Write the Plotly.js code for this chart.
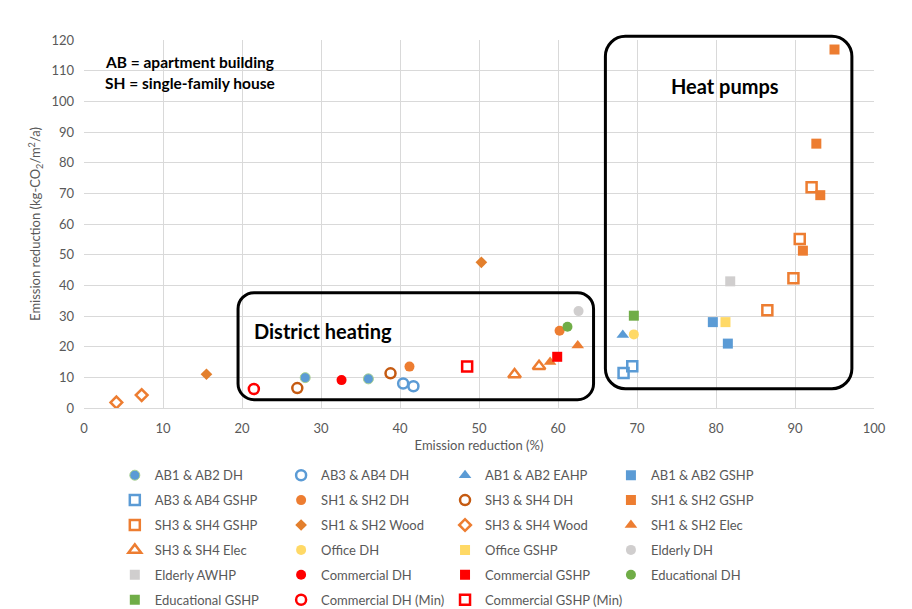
<!DOCTYPE html>
<html>
<head>
<meta charset="utf-8">
<script src="https://cdn.plot.ly/plotly-3.0.1.min.js"></script>
<style>html,body{margin:0;padding:0;background:#fff}</style>
</head>
<body>
<div id="chart" style="width:912px;height:609px"></div>
<script>
// Emission reduction: relative (%) on x, absolute (kg-CO2/m2/a) on y
const ab12DH_x = [28.0, 36.0],            ab12DH_y = [9.9, 9.5];
const ab34DH_x = [40.4, 41.7],            ab34DH_y = [8.0, 7.1];
const ab12EAHP_x = [68.2],                ab12EAHP_y = [23.8];
const ab12GSHP_x = [79.6, 81.5],          ab12GSHP_y = [28.0, 21.0];
const ab34GSHP_x = [68.3, 69.4],          ab34GSHP_y = [11.4, 13.6];
const sh12DH_x = [41.2, 60.2],            sh12DH_y = [13.5, 25.2];
const sh34DH_x = [27.0, 38.8],            sh34DH_y = [6.5, 11.3];
const sh12GSHP_x = [95.0, 92.7, 93.2, 91.0], sh12GSHP_y = [116.9, 86.2, 69.4, 51.3];
const sh34GSHP_x = [92.1, 90.6, 89.8, 86.5], sh34GSHP_y = [72.0, 55.1, 42.3, 31.9];
const sh12Wood_x = [15.5, 50.3],          sh12Wood_y = [11.0, 47.5];
const sh34Wood_x = [4.1, 7.3],            sh34Wood_y = [1.8, 4.2];
const sh12Elec_x = [59.0, 62.5],          sh12Elec_y = [15.0, 20.4];
const sh34Elec_x = [54.5, 57.6],          sh34Elec_y = [10.9, 13.6];
const officeDH_x = [69.6],                officeDH_y = [24.0];
const officeGSHP_x = [81.2],              officeGSHP_y = [28.0];
const elderlyDH_x = [62.6],               elderlyDH_y = [31.6];
const elderlyAWHP_x = [81.8],             elderlyAWHP_y = [41.3];
const commDH_x = [32.6],                  commDH_y = [9.1];
const commGSHP_x = [59.9],                commGSHP_y = [16.7];
const eduDH_x = [61.2],                   eduDH_y = [26.5];
const eduGSHP_x = [69.6],                 eduGSHP_y = [30.1];
const commDHMin_x = [21.5],               commDHMin_y = [6.2];
const commGSHPMin_x = [48.5],             commGSHPMin_y = [13.5];

const xTicks = [0, 10, 20, 30, 40, 50, 60, 70, 80, 90, 100];
const yTicks = [0, 10, 20, 30, 40, 50, 60, 70, 80, 90, 100, 110, 120];

const BLUE = '#5B9BD5', ORANGE = '#ED7D31', BROWN = '#C55A11', WOOD = '#E37F2C';
const YELLOW = '#FFD966', GREY = '#D0CECE', RED = '#FF0000', GREEN = '#70AD47';

const FONT = 'Lato, "Open Sans", sans-serif';

// [name, x, y, symbol, color, extra marker props]
const series = [
  ['AB1 & AB2 DH', ab12DH_x, ab12DH_y, 'circle', BLUE, {line: {color: '#A9D18E', width: 1}}],
  ['AB3 & AB4 DH', ab34DH_x, ab34DH_y, 'circle-open', BLUE],
  ['AB1 & AB2 EAHP', ab12EAHP_x, ab12EAHP_y, 'triangle-up', BLUE],
  ['AB1 & AB2 GSHP', ab12GSHP_x, ab12GSHP_y, 'square', BLUE],
  ['AB3 & AB4 GSHP', ab34GSHP_x, ab34GSHP_y, 'square-open', BLUE],
  ['SH1 & SH2 DH', sh12DH_x, sh12DH_y, 'circle', ORANGE],
  ['SH3 & SH4 DH', sh34DH_x, sh34DH_y, 'circle-open', BROWN],
  ['SH1 & SH2 GSHP', sh12GSHP_x, sh12GSHP_y, 'square', ORANGE],
  ['SH3 & SH4 GSHP', sh34GSHP_x, sh34GSHP_y, 'square-open', ORANGE],
  ['SH1 & SH2 Wood', sh12Wood_x, sh12Wood_y, 'diamond', WOOD],
  ['SH3 & SH4 Wood', sh34Wood_x, sh34Wood_y, 'diamond-open', ORANGE],
  ['SH1 & SH2 Elec', sh12Elec_x, sh12Elec_y, 'triangle-up', ORANGE],
  ['SH3 & SH4 Elec', sh34Elec_x, sh34Elec_y, 'triangle-up-open', ORANGE],
  ['Office DH', officeDH_x, officeDH_y, 'circle', YELLOW],
  ['Office GSHP', officeGSHP_x, officeGSHP_y, 'square', YELLOW],
  ['Elderly DH', elderlyDH_x, elderlyDH_y, 'circle', GREY],
  ['Elderly AWHP', elderlyAWHP_x, elderlyAWHP_y, 'square', GREY],
  ['Commercial DH', commDH_x, commDH_y, 'circle', RED],
  ['Commercial GSHP', commGSHP_x, commGSHP_y, 'square', RED],
  ['Educational DH', eduDH_x, eduDH_y, 'circle', GREEN],
  ['Educational GSHP', eduGSHP_x, eduGSHP_y, 'square', GREEN],
  ['Commercial DH (Min)', commDHMin_x, commDHMin_y, 'circle-open', RED],
  ['Commercial GSHP (Min)', commGSHPMin_x, commGSHPMin_y, 'square-open', RED]
];

const legendIds = ['legend', 'legend2', 'legend3', 'legend4'];

const traces = series.map((s, i) => {
  const [name, x, y, symbol, color, extra] = s;
  const open = symbol.endsWith('-open');
  let size = 10;
  if (symbol.startsWith('triangle')) size = 11;
  if (symbol.startsWith('diamond')) size = 9;
  const marker = Object.assign({symbol, color, size,
    line: {color, width: open ? 2.5 : 0}}, extra || {});
  return {
    type: 'scatter', mode: 'markers', name, x, y, marker,
    legend: legendIds[i % 4], legendgroup: 'g' + i,
    hoverinfo: 'x+y+name'
  };
});

// plot area geometry
const W = 912, H = 609;
const M = {l: 84, r: 38, t: 40, b: 201};
const plotW = W - M.l - M.r, plotH = H - M.t - M.b;
const X_RANGE = [0, 100], Y_RANGE = [0, 120];

// rounded grouping frames, extents in axis units
const dhFrame = {x0: 19.5, x1: 64.5, y0: 2.7, y1: 37.6, r: 16};
const hpFrame = {x0: 66.0, x1: 97.2, y0: 6.3, y1: 121.2, r: 20};

function roundedFrame(f) {
  const fx = v => (v - X_RANGE[0]) / (X_RANGE[1] - X_RANGE[0]);
  const fy = v => (v - Y_RANGE[0]) / (Y_RANGE[1] - Y_RANGE[0]);
  const x0 = fx(f.x0), x1 = fx(f.x1), y0 = fy(f.y0), y1 = fy(f.y1);
  const rx = f.r / plotW, ry = f.r / plotH, k = 0.4477;
  const p = [
    `M${x0 + rx},${y1}`,
    `L${x1 - rx},${y1}`,
    `C${x1 - rx * k},${y1} ${x1},${y1 - ry * k} ${x1},${y1 - ry}`,
    `L${x1},${y0 + ry}`,
    `C${x1},${y0 + ry * k} ${x1 - rx * k},${y0} ${x1 - rx},${y0}`,
    `L${x0 + rx},${y0}`,
    `C${x0 + rx * k},${y0} ${x0},${y0 + ry * k} ${x0},${y0 + ry}`,
    `L${x0},${y1 - ry}`,
    `C${x0},${y1 - ry * k} ${x0 + rx * k},${y1} ${x0 + rx},${y1}`,
    'Z'
  ].join(' ');
  return {type: 'path', xref: 'x domain', yref: 'y domain', path: p,
    line: {color: '#000000', width: 3}, fillcolor: 'rgba(0,0,0,0)', layer: 'above'};
}

const legendBase = {
  orientation: 'v', yanchor: 'top', y: -0.142, xanchor: 'left',
  bgcolor: 'rgba(0,0,0,0)', tracegroupgap: 5,
  font: {family: FONT, size: 13, color: '#595959'}
};
const legendX = [0.039, 0.2495, 0.457, 0.667];

const axisFont = {family: FONT, size: 13, color: '#595959'};
const noteFont = {family: FONT, size: 15.5, color: '#000000'};
const groupFont = {family: FONT, size: 20, color: '#000000'};

const layout = {
  width: W, height: H,
  margin: Object.assign({autoexpand: false}, M),
  paper_bgcolor: '#ffffff', plot_bgcolor: '#ffffff',
  font: {family: FONT},
  xaxis: {
    range: X_RANGE, tickvals: xTicks, ticktext: xTicks.map(String),
    showgrid: true, gridcolor: '#D9D9D9', gridwidth: 1,
    zeroline: false, showline: true, linecolor: '#D9D9D9', linewidth: 1,
    ticks: '', ticklabelstandoff: 8, tickfont: axisFont,
    title: {text: 'Emission reduction (%)', font: axisFont, standoff: 6},
    automargin: false, fixedrange: true
  },
  yaxis: {
    range: Y_RANGE, tickvals: yTicks, ticktext: yTicks.map(String),
    showgrid: true, gridcolor: '#D9D9D9', gridwidth: 1,
    zeroline: false, showline: false,
    ticks: '', ticklabelstandoff: 9, tickfont: axisFont,
    title: {text: 'Emission reduction (kg-CO<sub>2</sub>/m<sup>2</sup>/a)', font: axisFont, standoff: 7},
    automargin: false, fixedrange: true
  },
  shapes: [roundedFrame(dhFrame), roundedFrame(hpFrame)],
  annotations: [
    {text: '<b>District heating</b>', xref: 'paper', yref: 'paper', x: 0.303, y: 0.209,
     xanchor: 'center', yanchor: 'middle', showarrow: false, font: groupFont},
    {text: '<b>Heat pumps</b>', xref: 'paper', yref: 'paper', x: 0.811, y: 0.876,
     xanchor: 'center', yanchor: 'middle', showarrow: false, font: groupFont},
    {text: '<b>AB = apartment building</b>', xref: 'paper', yref: 'paper', x: 0.0235, y: 0.9415,
     xanchor: 'left', yanchor: 'middle', showarrow: false, font: noteFont},
    {text: '<b>SH = single-family house</b>', xref: 'paper', yref: 'paper', x: 0.0235, y: 0.884,
     xanchor: 'left', yanchor: 'middle', showarrow: false, font: noteFont}
  ],
  showlegend: true
};
legendIds.forEach((id, i) => {
  layout[id] = Object.assign({}, legendBase, {x: legendX[i]});
});

Plotly.newPlot('chart', traces, layout, {displayModeBar: false, staticPlot: true});
</script>
</body>
</html>
